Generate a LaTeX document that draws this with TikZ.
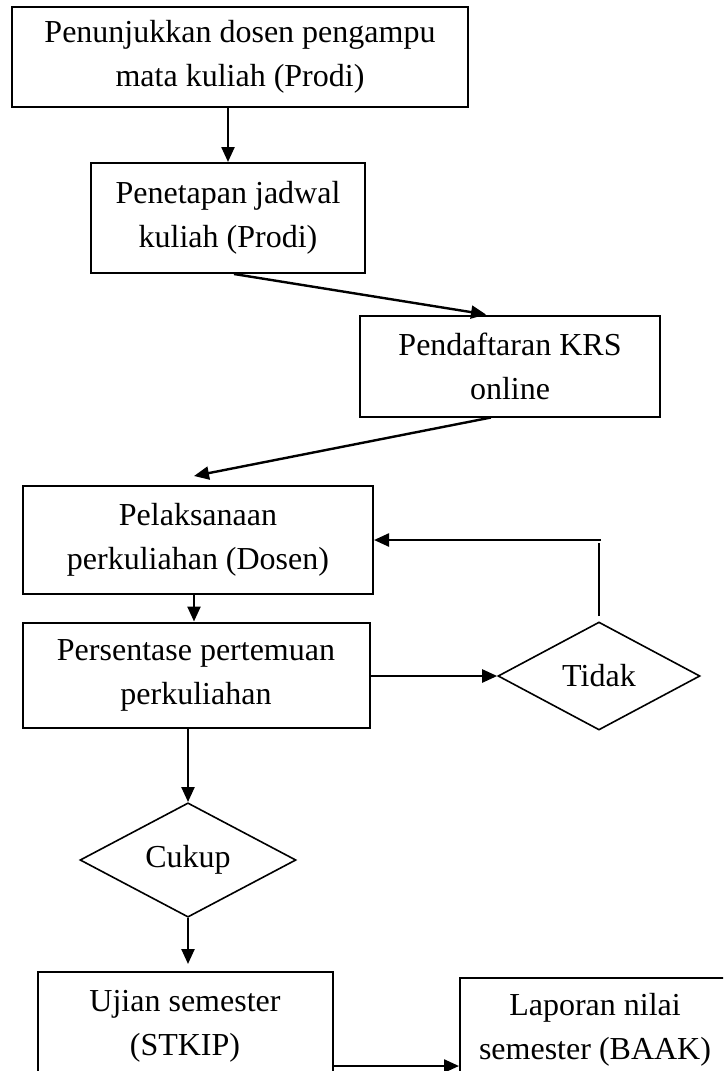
\documentclass[tikz,border=0pt]{standalone}
\usepackage{fontspec}
\setmainfont{Liberation Serif}
\usetikzlibrary{shapes.geometric,arrows.meta}

\begin{document}
\begin{tikzpicture}[x=1pt, y=-1pt,
    boite/.style={draw, line width=2pt, align=center, inner sep=0pt},
    losange/.style={draw, diamond, line width=1.6pt, inner sep=0pt},
    fleche/.style={line width=2.4pt, -{Triangle[length=15pt,width=13pt]}},
    every node/.style={font=\fontsize{32}{44}\selectfont}]

        % Le cadre de la page
        \clip (0,0) rectangle (723,1071);

        % Les etapes
        \node[boite, minimum width=456pt, minimum height=100pt] (penunjukkan) at (240,57) {Penunjukkan dosen pengampu\\mata kuliah (Prodi)};
        \node[boite, minimum width=274pt, minimum height=110pt] (jadwal) at (228,218) {Penetapan jadwal\\kuliah (Prodi)};
        \node[boite, minimum width=300pt, minimum height=101pt] (krs) at (510,366) {Pendaftaran KRS\\online};
        \node[boite, minimum width=350pt, minimum height=108pt] (pelaksanaan) at (198,540) {Pelaksanaan\\perkuliahan (Dosen)};
        \node[boite, minimum width=347pt, minimum height=105pt] (persentase) at (196,675) {Persentase pertemuan\\perkuliahan};
        \node[boite, minimum width=295pt, minimum height=108pt] (ujian) at (185,1026) {Ujian semester\\(STKIP)};
        \node[boite, minimum width=270pt, minimum height=104pt] (laporan) at (595,1030) {Laporan nilai\\semester (BAAK)};

        % Les decisions
        \node[losange, minimum width=202pt, minimum height=108pt] (tidak) at (599,676) {Tidak};
        \node[losange, minimum width=216pt, minimum height=107pt] (cukup) at (188,860) {Cukup};

        % Les liaisons
        \draw[fleche] (jadwal.north |- penunjukkan.south) -- (jadwal.north);
        \draw[fleche] ([xshift=6pt]jadwal.south) -- ([xshift=-24pt]krs.north);
        \draw[fleche] ([xshift=-19pt]krs.south) -- ([xshift=-4pt,yshift=9pt]pelaksanaan.north);
        \draw[fleche] ([xshift=-4pt]pelaksanaan.south) -- ([xshift=-4pt]pelaksanaan.south |- persentase.north);
        \draw[fleche] (persentase.east |- tidak.west) -- (tidak.west);
        \draw[fleche] (cukup.north |- persentase.south) -- (cukup.north);
        \draw[fleche] (cukup.south) -- ([yshift=7pt]cukup.south |- ujian.north);
        \draw[fleche] ([yshift=-40pt]ujian.east) -- ([yshift=-40pt]ujian.east -| laporan.west);

        % Le retour depuis Tidak
        \coordinate (retour) at (tidak.north |- pelaksanaan.east);
        \draw[line width=1.4pt] ([yshift=5pt]tidak.north) -- ([yshift=-3pt]retour);
        \draw[fleche] ([xshift=2pt]retour) -- (pelaksanaan.east);

\end{tikzpicture}
\end{document}
